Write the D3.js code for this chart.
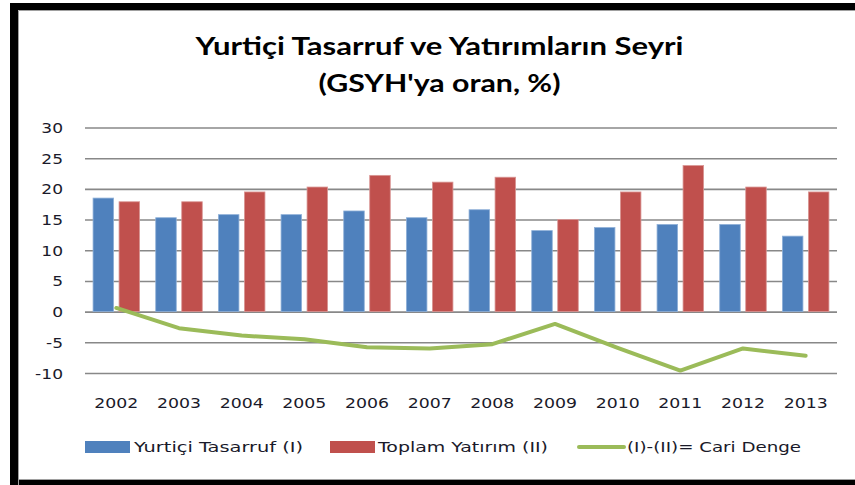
<!DOCTYPE html>
<html><head><meta charset="utf-8">
<script src="https://cdn.jsdelivr.net/npm/d3@7"></script>
<style>html,body{margin:0;padding:0;background:#fff;}svg{display:block;}</style>
</head><body>
<svg id="c" width="855" height="485"></svg>
<script>
const years = ["2002","2003","2004","2005","2006","2007","2008","2009","2010","2011","2012","2013"];
const savings = [18.5,15.3,15.8,15.8,16.4,15.3,16.6,13.2,13.7,14.2,14.2,12.3];
const investment = [17.9,17.9,19.5,20.3,22.2,21.1,21.9,15.0,19.5,23.8,20.3,19.5];
const balance = [0.6,-2.7,-3.9,-4.5,-5.8,-6.0,-5.3,-2.0,-5.9,-9.6,-6.0,-7.2];
const yTicks = [30,25,20,15,10,5,0,-5,-10];
const seriesNames = ["Yurtiçi Tasarruf (I)","Toplam Yatırım (II)","(I)-(II)= Cari Denge"];
const titleLines = ["Yurtiçi Tasarruf ve Yatırımların Seyri","(GSYH'ya oran, %)"];

const colors = {s:"#4F81BD", i:"#C0504D", b:"#9BBB59"};
const svg = d3.select("#c");

// frame
svg.append("rect").attr("x",0).attr("y",0).attr("width",855).attr("height",485).attr("fill","#fff");
svg.append("rect").attr("x",10).attr("y",3).attr("width",845).attr("height",7).attr("fill","#000");
svg.append("rect").attr("x",10).attr("y",3).attr("width",8).attr("height",482).attr("fill","#000");
svg.append("rect").attr("x",10).attr("y",480).attr("width",845).attr("height",5).attr("fill","#000");
svg.append("path").attr("d","M18.5,485 V10.5 H855").attr("fill","none").attr("stroke","#a0a0a0").attr("stroke-width",1);
svg.append("path").attr("d","M18,479.5 H855").attr("fill","none").attr("stroke","#a0a0a0").attr("stroke-width",1);

// title
const tw = [488, 242];
const ty = [55, 92];
titleLines.forEach((t,k)=>{
  svg.append("text").attr("x",439.5).attr("y",ty[k]).attr("text-anchor","middle")
    .attr("font-family","Lato, 'Open Sans', sans-serif").attr("font-weight","bold").attr("font-size",25)
    .attr("fill","#000").attr("textLength",tw[k]).attr("lengthAdjust","spacingAndGlyphs").text(t);
});

const left = 85, right = 837;
const y = d3.scaleLinear().domain([-10,30]).range([373,127.5]);
const x = d3.scaleBand().domain(years).range([left,right]);
const xs = d3.scaleBand().domain(["s","i"]).range([0,x.bandwidth()]).paddingInner(0.21).paddingOuter(0.31);

const sx = 1.22;
// grid + y axis
const gy = svg.append("g").attr("transform",`translate(${left},0)`)
  .call(d3.axisLeft(y).tickValues(yTicks).tickSizeInner(-(right-left)).tickSizeOuter(0).tickPadding(0).tickFormat(d=>String(d)));
gy.select(".domain").remove();
gy.selectAll(".tick line").attr("stroke","#888").attr("stroke-width",1.6);
gy.selectAll(".tick text").attr("font-family","'DejaVu Sans', Verdana, sans-serif").attr("font-size",14)
  .attr("fill","#1a1a2a").attr("x",-22/sx).attr("transform",`scale(${sx},1)`).attr("dy","0.36em");

// bars
const g = svg.append("g");
g.selectAll("rect.s").data(years).join("rect").attr("class","s")
  .attr("x",d=>x(d)+xs("s")).attr("width",xs.bandwidth())
  .attr("y",(d,i)=>y(savings[i])).attr("height",(d,i)=>y(0)-y(savings[i]))
  .attr("fill",colors.s).attr("stroke","#8fb0d8").attr("stroke-width",0.8);
g.selectAll("rect.i").data(years).join("rect").attr("class","i")
  .attr("x",d=>x(d)+xs("i")).attr("width",xs.bandwidth())
  .attr("y",(d,i)=>y(investment[i])).attr("height",(d,i)=>y(0)-y(investment[i]))
  .attr("fill",colors.i).attr("stroke","#d99694").attr("stroke-width",0.8);

// line
const line = d3.line().x((d,i)=>x(years[i])+x.bandwidth()/2).y(d=>y(d)).curve(d3.curveLinear);
svg.append("path").datum(balance).attr("d",line).attr("fill","none")
  .attr("stroke",colors.b).attr("stroke-width",4).attr("stroke-linejoin","round").attr("stroke-linecap","round");

// x axis labels
const gx = svg.append("g").attr("transform",`translate(0,403)`)
  .call(d3.axisBottom(x).tickSize(0).tickPadding(0));
gx.select(".domain").remove();
gx.selectAll(".tick text").attr("font-family","'DejaVu Sans', Verdana, sans-serif").attr("font-size",14)
  .attr("fill","#1a1a2a").attr("dy","0.36em").attr("y",0).attr("textLength",44).attr("lengthAdjust","spacingAndGlyphs");

// legend
const lg = svg.append("g");
const items = [
  {type:"rect", color:colors.s, x0:85, tx:134, tw:169},
  {type:"rect", color:colors.i, x0:330, tx:378, tw:170},
  {type:"line", color:colors.b, x0:578, tx:627, tw:174}
];
items.forEach((it,k)=>{
  if(it.type==="rect"){
    lg.append("rect").attr("x",it.x0).attr("y",441).attr("width",45).attr("height",12).attr("fill",it.color);
  } else {
    lg.append("line").attr("x1",it.x0+1).attr("x2",it.x0+46).attr("y1",447).attr("y2",447)
      .attr("stroke",it.color).attr("stroke-width",4).attr("stroke-linecap","round");
  }
  lg.append("text").attr("x",it.tx).attr("y",447).attr("dy","0.36em")
    .attr("font-family","'DejaVu Sans', Verdana, sans-serif").attr("font-size",14).attr("fill","#1a1a2a")
    .attr("textLength",it.tw).attr("lengthAdjust","spacingAndGlyphs").text(seriesNames[k]);
});
</script>
</body></html>
